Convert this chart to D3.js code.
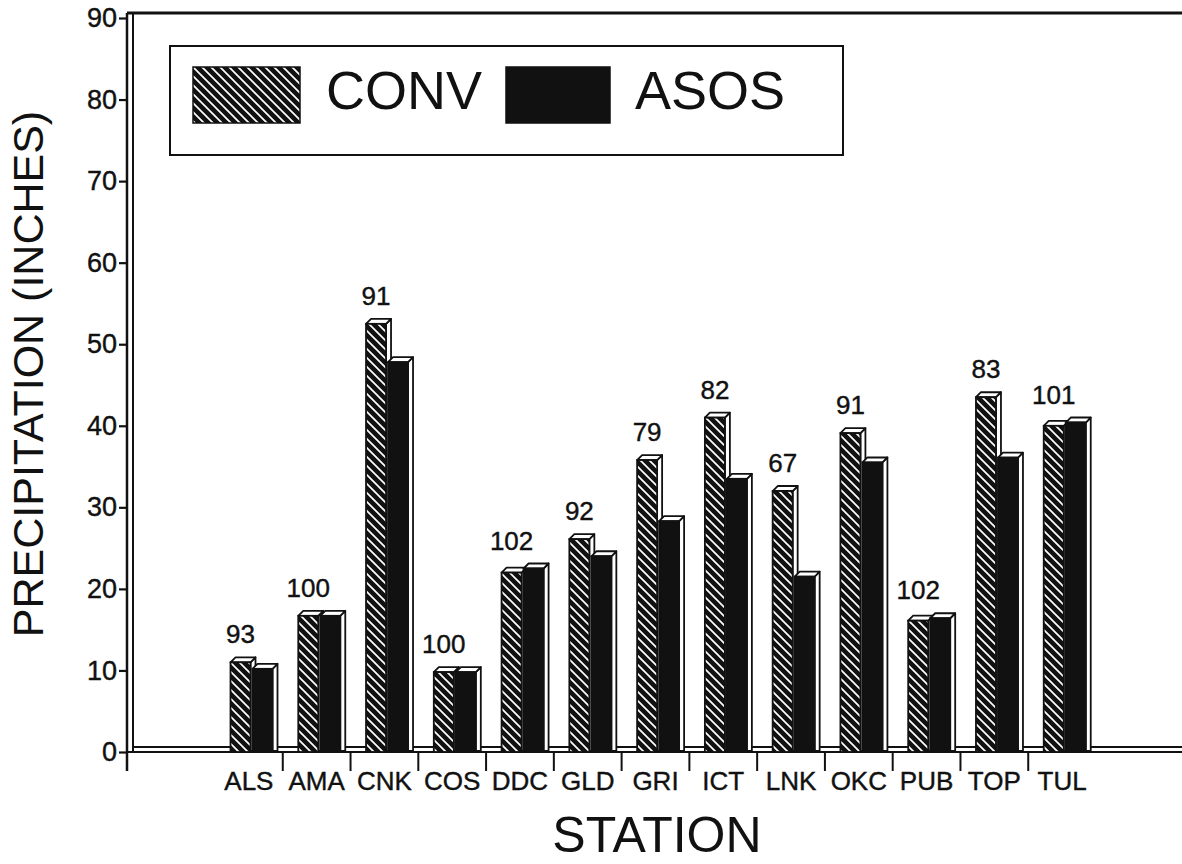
<!DOCTYPE html>
<html><head><meta charset="utf-8">
<script src="https://cdn.jsdelivr.net/npm/d3@7"></script>
<style>
body{margin:0;background:#fff}
svg{display:block}
text{font-family:"Liberation Sans",Arial,Helvetica,sans-serif;fill:#111}
</style>
</head><body>
<svg id="c" width="1182" height="864"></svg>
<script>
const stations = ["ALS","AMA","CNK","COS","DDC","GLD","GRI","ICT","LNK","OKC","PUB","TOP","TUL"];
const conv = [11.0,16.7,52.5,9.8,22.0,26.1,35.8,41.0,32.0,39.1,16.1,43.5,40.0];
const asos = [10.2,16.7,47.8,9.8,22.5,24.0,28.3,33.5,21.5,35.5,16.4,36.1,40.4];
const ratios = ["93","100","91","100","102","92","79","82","67","91","102","83","101"];
const yTicks = [0,10,20,30,40,50,60,70,80,90];
const seriesNames = ["CONV","ASOS"];

const svg = d3.select("#c");
const ink = "#111";
const FONT = "'Liberation Sans',Arial,Helvetica,sans-serif";
const y = d3.scaleLinear().domain([0,90]).range([752,18]);
const x = d3.scaleBand().domain(stations).range([215,1096]);
const base = y(0);

// hatch pattern
const defs = svg.append("defs");
const pat = defs.append("pattern").attr("id","hatch").attr("patternUnits","userSpaceOnUse")
  .attr("width",9).attr("height",9);
pat.append("rect").attr("width",9).attr("height",9).attr("fill",ink);
pat.append("path").attr("d","M0,0 L9,9 M-1,8 L1,10 M8,-1 L10,1")
  .attr("stroke","#fff").attr("stroke-width",1.7);

// frame: top line, double y axis, double baseline
svg.append("line").attr("x1",127).attr("x2",1182).attr("y1",13).attr("y2",13)
  .attr("stroke",ink).attr("stroke-width",3);
svg.append("line").attr("x1",127).attr("x2",127).attr("y1",13).attr("y2",771)
  .attr("stroke",ink).attr("stroke-width",2.5);
svg.append("line").attr("x1",133).attr("x2",133).attr("y1",14).attr("y2",base)
  .attr("stroke",ink).attr("stroke-width",2);
svg.append("line").attr("x1",133).attr("x2",1182).attr("y1",base-5).attr("y2",base-5)
  .attr("stroke",ink).attr("stroke-width",1.8);
svg.append("line").attr("x1",127).attr("x2",1182).attr("y1",base).attr("y2",base)
  .attr("stroke",ink).attr("stroke-width",2.2);

// y axis ticks & labels
const ya = svg.append("g").attr("transform","translate(127,0)")
  .call(d3.axisLeft(y).tickValues(yTicks).tickSize(8).tickPadding(2));
ya.select(".domain").remove();
ya.selectAll(".tick line").attr("stroke",ink).attr("stroke-width",2.2);
ya.selectAll(".tick text").attr("font-size",27).attr("fill",ink).attr("font-family",FONT)
  .attr("stroke",ink).attr("stroke-width",0.4);

// x boundary ticks
const bounds = stations.slice(0,-1).map(s => x(s) + x.bandwidth());
svg.append("g").selectAll("line").data(bounds).join("line")
  .attr("x1",d=>d).attr("x2",d=>d).attr("y1",base).attr("y2",771)
  .attr("stroke",ink).attr("stroke-width",2);

// x category labels
const xa = svg.append("g").attr("transform",`translate(0,${base})`)
  .call(d3.axisBottom(x).tickSize(0).tickPadding(20));
xa.select(".domain").remove();
xa.selectAll(".tick text").attr("font-size",26).attr("fill",ink).attr("font-family",FONT)
  .attr("stroke",ink).attr("stroke-width",0.4);

// bars
const W = 20, D = 5, OFF = 15.5, GAP = 22;
const data = [];
stations.forEach((s,i) => {
  [conv[i], asos[i]].forEach((v,k) => data.push({s, v, k}));
});
const bars = svg.append("g").selectAll("g").data(data).join("g");
bars.each(function(d){
  const g = d3.select(this);
  const x0 = x(d.s) + OFF + d.k*GAP, x1 = x0 + W, t = y(d.v);
  g.append("polygon")
    .attr("points",[[x1,t],[x1+D,t-D],[x1+D,base-1],[x1,base-1]].map(p=>p.join(",")).join(" "))
    .attr("fill","#fff").attr("stroke",ink).attr("stroke-width",1.8).attr("stroke-linejoin","round");
  g.append("polygon")
    .attr("points",[[x0,t],[x0+D,t-D],[x1+D,t-D],[x1,t]].map(p=>p.join(",")).join(" "))
    .attr("fill","#fff").attr("stroke",ink).attr("stroke-width",1.8).attr("stroke-linejoin","round");
  g.append("rect").attr("x",x0).attr("y",t).attr("width",W).attr("height",base-t)
    .attr("fill", d.k===0 ? "url(#hatch)" : ink).attr("stroke",ink).attr("stroke-width",1.8);
});

// ratio labels
svg.append("g").selectAll("text").data(stations).join("text")
  .attr("x",(s)=>x(s)+OFF+W/2)
  .attr("y",(s,i)=>y(Math.max(conv[i],asos[i]))-19)
  .attr("text-anchor","middle").attr("font-size",26)
  .attr("stroke",ink).attr("stroke-width",0.4)
  .text((s,i)=>ratios[i]);

// legend
const lg = svg.append("g");
lg.append("rect").attr("x",170).attr("y",46).attr("width",673).attr("height",109)
  .attr("fill","#fff").attr("stroke",ink).attr("stroke-width",2);
const lgX = [193,506], lgW = [107,104], lgT = [326,635];
seriesNames.forEach((n,k)=>{
  lg.append("rect").attr("x",lgX[k]).attr("y",67).attr("width",lgW[k]).attr("height",56)
    .attr("fill", k===0 ? "url(#hatch)" : ink).attr("stroke",ink).attr("stroke-width",1.5);
  lg.append("text").attr("x",lgT[k]).attr("y",109).attr("font-size",54).text(n);
});

// titles
svg.append("text").attr("transform","translate(43,374) rotate(-90)")
  .attr("text-anchor","middle").attr("font-size",43).text("PRECIPITATION (INCHES)");
svg.append("text").attr("x",657).attr("y",852).attr("text-anchor","middle")
  .attr("font-size",50).text("STATION");
</script>
</body></html>
